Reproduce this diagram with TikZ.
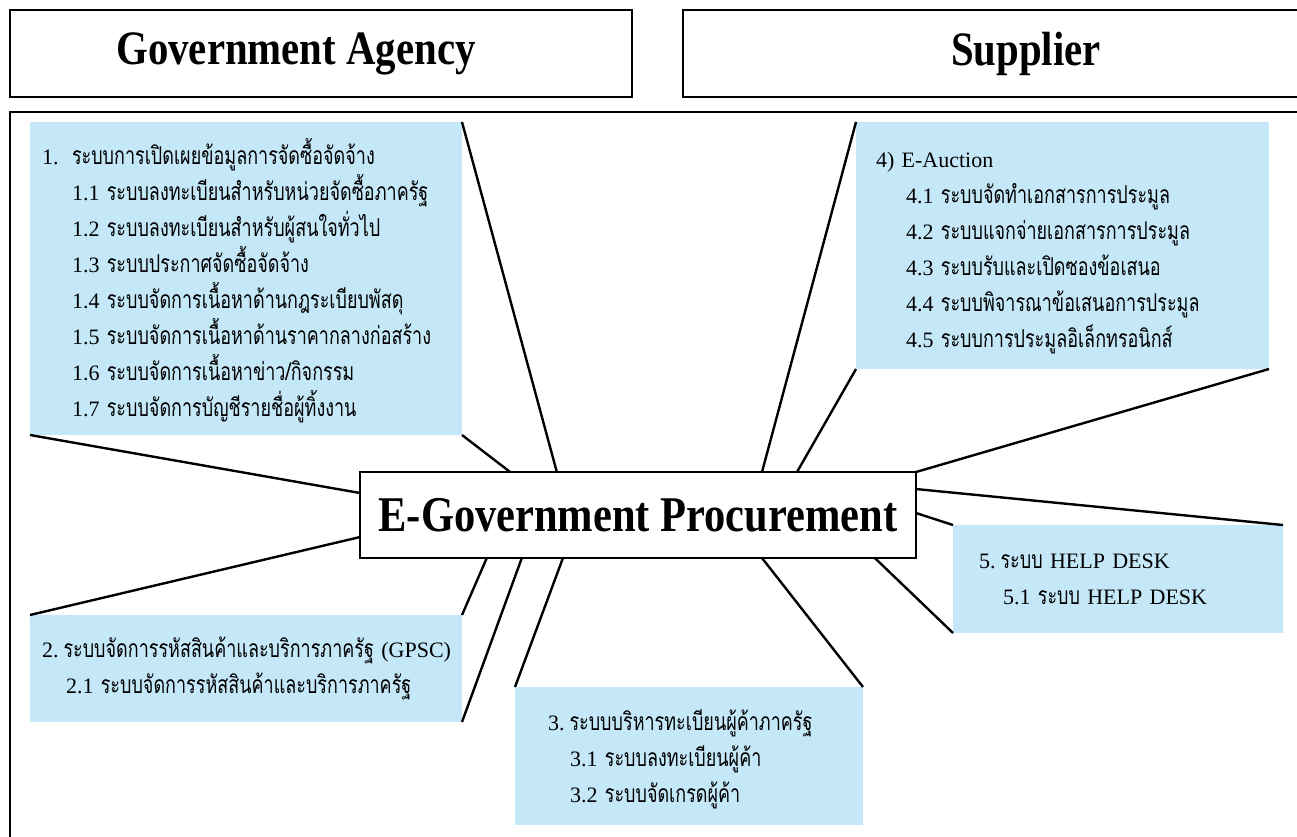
\documentclass[tikz,border=0pt]{standalone}
\usepackage{fontspec}
\setmainfont{Liberation Serif}
\newfontfamily\thaifont[Script=Thai,Scale=1.12,FakeStretch=0.73]{Loma}
\newfontfamily\headfont[FakeStretch=0.85]{Liberation Serif}
\usetikzlibrary{calc}
\definecolor{boxblue}{RGB}{197,232,249}

\begin{document}
\begin{tikzpicture}[x=1pt,y=-1pt,
  titlebox/.style={draw,line width=2.6pt,outer sep=0pt,anchor=north west,minimum height=87pt},
  headlabel/.style={font=\headfont\bfseries\fontsize{48}{50}\selectfont,inner sep=0pt},
  bluebox/.style={fill=boxblue,outer sep=0pt,inner ysep=0pt,anchor=north west,align=left,font=\fontsize{22}{36}\selectfont},
  link/.style={line width=2.4pt}]
  \useasboundingbox (0,0) rectangle (1297,836);
  \clip (0,0) rectangle (1297,836);
  %top
  \node[titlebox,minimum width=622pt,label={[headlabel,xshift=-25pt]center:Government Agency}] (ga) at (10,10) {};
  \node[titlebox,minimum width=686pt,label={[headlabel]center:Supplier}] (sp) at (683,10) {};
  \draw[line width=2.6pt] (10,900) -- (10,112) -- (1400,112);
  %boxes
  \node[bluebox,minimum width=432pt,minimum height=313pt,inner xsep=12pt,text width=408pt] (disc) at (30,122)
    {\rule{0pt}{30pt}\makebox[30pt][l]{1.}{\thaifont ระบบการเปิดเผยข้อมูลการจัดซื้อจัดจ้าง}\\
     \hspace*{30pt}1.1 {\thaifont ระบบลงทะเบียนสำหรับหน่วยจัดซื้อภาครัฐ}\\
     \hspace*{30pt}1.2 {\thaifont ระบบลงทะเบียนสำหรับผู้สนใจทั่วไป}\\
     \hspace*{30pt}1.3 {\thaifont ระบบประกาศจัดซื้อจัดจ้าง}\\
     \hspace*{30pt}1.4 {\thaifont ระบบจัดการเนื้อหาด้านกฎระเบียบพัสดุ}\\
     \hspace*{30pt}1.5 {\thaifont ระบบจัดการเนื้อหาด้านราคากลางก่อสร้าง}\\
     \hspace*{30pt}1.6 {\thaifont ระบบจัดการเนื้อหาข่าว/กิจกรรม}\\
     \hspace*{30pt}1.7 {\thaifont ระบบจัดการบัญชีรายชื่อผู้ทิ้งงาน}};
  \node[bluebox,minimum width=413pt,minimum height=247pt,inner xsep=20pt,text width=373pt] (auct) at (856,122)
    {\rule{0pt}{30pt}4) E-Auction\\
     \hspace*{30pt}4.1 {\thaifont ระบบจัดทำเอกสารการประมูล}\\
     \hspace*{30pt}4.2 {\thaifont ระบบแจกจ่ายเอกสารการประมูล}\\
     \hspace*{30pt}4.3 {\thaifont ระบบรับและเปิดซองข้อเสนอ}\\
     \hspace*{30pt}4.4 {\thaifont ระบบพิจารณาข้อเสนอการประมูล}\\
     \hspace*{30pt}4.5 {\thaifont ระบบการประมูลอิเล็กทรอนิกส์}};
  \node[bluebox,minimum width=432pt,minimum height=107pt,inner xsep=12pt,text width=408pt] (gpsc) at (30,615)
    {\mbox{2.\hspace{5pt}{\thaifont ระบบจัดการรหัสสินค้าและบริการภาครัฐ} (GPSC)}\\
     \hspace*{24pt}2.1 {\thaifont ระบบจัดการรหัสสินค้าและบริการภาครัฐ}};
  \node[bluebox,minimum width=348pt,minimum height=138pt,inner xsep=33pt,text width=282pt] (reg) at (515,687)
    {\rule{0pt}{28pt}3.\hspace{5pt}{\thaifont ระบบบริหารทะเบียนผู้ค้าภาครัฐ}\\
     \hspace*{22pt}3.1 {\thaifont ระบบลงทะเบียนผู้ค้า}\\
     \hspace*{22pt}3.2 {\thaifont ระบบจัดเกรดผู้ค้า}};
  \node[bluebox,minimum width=330pt,minimum height=108pt,inner xsep=26pt,text width=278pt] (help) at (953,525)
    {5.\hspace{5pt}{\thaifont ระบบ} HELP DESK\\
     \hspace*{24pt}5.1 {\thaifont ระบบ} HELP DESK};
  %centre
  \node[draw,fill=white,line width=2.6pt,outer sep=0pt,anchor=north west,minimum width=556pt,minimum height=86pt,
    font=\headfont\bfseries\fontsize{50}{52}\selectfont] (epro) at (360,472) {E-Government Procurement};
  %left
  \draw[link] (disc.north east) -- ($(epro.north west)!0.354!(epro.north east)$);
  \draw[link] (disc.south east) -- ($(epro.north west)!0.27!(epro.north east)$);
  \draw[link] (disc.south west) -- ($(epro.north west)!0.244!(epro.south west)$);
  \draw[link] (gpsc.north west) -- ($(epro.north west)!0.756!(epro.south west)$);
  %bottom
  \draw[link] (gpsc.north east) -- ($(epro.south west)!0.228!(epro.south east)$);
  \draw[link] (gpsc.south east) -- ($(epro.south west)!0.291!(epro.south east)$);
  \draw[link] (reg.north west) -- ($(epro.south west)!0.365!(epro.south east)$);
  \draw[link] (reg.north east) -- ($(epro.south west)!0.723!(epro.south east)$);
  \draw[link] (help.south west) -- ($(epro.south west)!0.926!(epro.south east)$);
  %right
  \draw[link] (help.north west) -- ($(epro.north east)!0.477!(epro.south east)$);
  \draw[link] (help.north east) -- ($(epro.north east)!0.198!(epro.south east)$);
  \draw[link] (auct.south east) -- (epro.north east);
  \draw[link] (auct.south west) -- ($(epro.north west)!0.786!(epro.north east)$);
  \draw[link] (auct.north west) -- ($(epro.north west)!0.723!(epro.north east)$);
\end{tikzpicture}
\end{document}
